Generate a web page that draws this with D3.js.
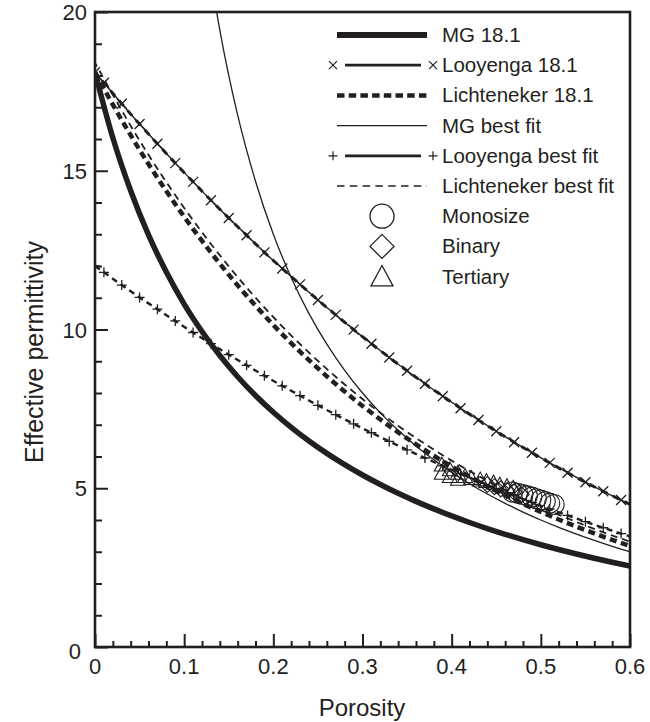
<!DOCTYPE html>
<html lang="en">

<head>
    <meta charset="UTF-8" />
    <title>Effective permittivity vs porosity</title>
    <script src="https://cdnjs.cloudflare.com/ajax/libs/d3/7.8.5/d3.min.js"></script>
    <style>
        body {
            margin: 0;
            padding: 0;
            background: #fff;
            font-family: 'Liberation Sans', Arial, sans-serif;
        }

        #chart {
            display: block;
        }

        .tick-label {
            font-size: 22px;
            fill: #231f20;
        }

        .axis-title {
            font-size: 24px;
            fill: #231f20;
        }

        .legend-label {
            font-size: 20.5px;
            fill: #231f20;
        }
    </style>
</head>

<body>
    <svg id="chart" width="650" height="722"></svg>

    <script>
        // model curves sampled every 0.02 porosity
        const porosityGrid = [0, 0.02, 0.04, 0.06, 0.08, 0.10, 0.12, 0.14, 0.16, 0.18, 0.20,
            0.22, 0.24, 0.26, 0.28, 0.30, 0.32, 0.34, 0.36, 0.38, 0.40,
            0.42, 0.44, 0.46, 0.48, 0.50, 0.52, 0.54, 0.56, 0.58, 0.60];
        const mg181 = [18.10, 16.04, 14.37, 12.98, 11.81, 10.80, 9.936, 9.179, 8.513, 7.921, 7.393,
            6.918, 6.488, 6.098, 5.743, 5.417, 5.118, 4.841, 4.586, 4.349, 4.128,
            3.922, 3.730, 3.549, 3.380, 3.221, 3.071, 2.929, 2.795, 2.668, 2.548];
        const lich181 = [18.10, 17.08, 16.12, 15.21, 14.36, 13.55, 12.79, 12.07, 11.39, 10.75, 10.14,
            9.572, 9.034, 8.525, 8.046, 7.593, 7.166, 6.762, 6.382, 6.023, 5.684,
            5.364, 5.062, 4.777, 4.509, 4.255, 4.016, 3.790, 3.576, 3.375, 3.185];

        // Looyenga curves, marker positions at odd hundredths
        const looyPoros = [0, 0.01, 0.03, 0.05, 0.07, 0.09, 0.11, 0.13, 0.15, 0.17, 0.19,
            0.21, 0.23, 0.25, 0.27, 0.29, 0.31, 0.33, 0.35, 0.37, 0.39,
            0.41, 0.43, 0.45, 0.47, 0.49, 0.51, 0.53, 0.55, 0.57, 0.59, 0.60];
        const looy181 = [18.10, 17.77, 17.11, 16.47, 15.85, 15.24, 14.65, 14.07, 13.51, 12.97, 12.43,
            11.92, 11.42, 10.93, 10.46, 9.996, 9.551, 9.118, 8.699, 8.293, 7.900,
            7.519, 7.151, 6.795, 6.451, 6.119, 5.798, 5.489, 5.191, 4.904, 4.628, 4.494];
        const looyFit = [12.00, 11.80, 11.40, 11.01, 10.64, 10.27, 9.905, 9.552, 9.208, 8.873, 8.545,
            8.226, 7.915, 7.611, 7.316, 7.028, 6.748, 6.476, 6.211, 5.953, 5.702,
            5.459, 5.223, 4.993, 4.771, 4.555, 4.345, 4.143, 3.946, 3.756, 3.572, 3.483];

        const mgFitPoros = [0.10, 0.12, 0.14, 0.16, 0.18, 0.20, 0.22, 0.24, 0.26, 0.28, 0.30,
            0.32, 0.34, 0.36, 0.38, 0.40, 0.42, 0.44, 0.46, 0.48, 0.50,
            0.52, 0.54, 0.56, 0.58, 0.60];
        const mgFit = [28.0, 23.0, 19.43, 16.75, 14.67, 13.00, 11.64, 10.50, 9.538, 8.714, 8.000,
            7.375, 6.824, 6.333, 5.895, 5.500, 5.143, 4.818, 4.522, 4.250, 4.000,
            3.769, 3.556, 3.357, 3.172, 3.000];

        const lichFitPoros = [0, 0.05, 0.10, 0.15, 0.20, 0.25, 0.30, 0.35, 0.40, 0.45, 0.50, 0.55, 0.60];
        const lichFit = [18.40, 15.95, 13.83, 11.99, 10.39, 9.010, 7.810, 6.771, 5.870, 5.089, 4.412, 3.825, 3.316];

        // measured samples [porosity, permittivity]
        const monosize = [[0.468, 4.88], [0.474, 4.84], [0.480, 4.80], [0.485, 4.76], [0.490, 4.72],
            [0.495, 4.67], [0.500, 4.63], [0.505, 4.58], [0.510, 4.53], [0.515, 4.49]];
        const binary = [[0.440, 5.12], [0.448, 5.05], [0.455, 4.98], [0.462, 4.93], [0.470, 4.88], [0.478, 4.80]];
        const tertiary = [[0.389, 5.72], [0.389, 5.46], [0.398, 5.57], [0.398, 5.36], [0.407, 5.46], [0.407, 5.27],
            [0.415, 5.36], [0.422, 5.30], [0.432, 5.25], [0.439, 5.20], [0.447, 5.15], [0.454, 5.09],
            [0.462, 5.04], [0.469, 4.99]];

        const xTicks = [0, 0.1, 0.2, 0.3, 0.4, 0.5, 0.6];
        const yTicks = [0, 5, 10, 15, 20];

        const legendLabels = ["MG 18.1", "Looyenga 18.1", "Lichteneker 18.1", "MG best fit",
            "Looyenga best fit", "Lichteneker best fit", "Monosize", "Binary", "Tertiary"];

        const ink = "#231f20";
        const plotLeft = 95, plotRight = 630, plotTop = 12, plotBottom = 647;

        const svg = d3.select("#chart");
        const x = d3.scaleLinear().domain([0, 0.6]).range([plotLeft, plotRight]);
        const y = d3.scaleLinear().domain([0, 20]).range([plotBottom, plotTop]);

        svg.append("defs").append("clipPath").attr("id", "plot-clip")
            .append("rect")
            .attr("x", plotLeft).attr("y", plotTop)
            .attr("width", plotRight - plotLeft).attr("height", plotBottom - plotTop);

        const plot = svg.append("g").attr("clip-path", "url(#plot-clip)");

        const line = d3.line()
            .x(d => x(d[0]))
            .y(d => y(d[1]))
            .curve(d3.curveMonotoneX);

        const zip = (xs, ys) => xs.map((v, i) => [v, ys[i]]);

        function drawCurve(pts, width, dash, offset) {
            plot.append("path")
                .datum(pts)
                .attr("d", line)
                .attr("fill", "none")
                .attr("stroke", ink)
                .attr("stroke-width", width)
                .attr("stroke-dasharray", dash || null)
                .attr("stroke-dashoffset", offset || 0);
        }

        // curves
        drawCurve(zip(porosityGrid, mg181), 5.5);
        drawCurve(zip(mgFitPoros, mgFit), 1.3);
        drawCurve(zip(porosityGrid, lich181), 4.5, "7,4.5");
        drawCurve(zip(lichFitPoros, lichFit), 1.8, "7,5", 3);
        drawCurve(zip(looyPoros, looy181), 1.4);
        drawCurve(zip(looyPoros, looy181), 3, "7,6", 2);
        drawCurve(zip(looyPoros, looyFit), 2.4, "6,4.5");

        const crossPath = s => `M${-s},${-s}L${s},${s}M${-s},${s}L${s},${-s}`;
        const plusPath = s => `M${-s},0L${s},0M0,${-s}L0,${s}`;

        plot.append("g").selectAll("path")
            .data(zip(looyPoros, looy181).slice(0, -1))
            .join("path")
            .attr("transform", d => `translate(${x(d[0])},${y(d[1])})`)
            .attr("d", crossPath(5))
            .attr("stroke", ink)
            .attr("stroke-width", 1.3);

        plot.append("g").selectAll("path")
            .data(zip(looyPoros, looyFit).slice(0, -1))
            .join("path")
            .attr("transform", d => `translate(${x(d[0])},${y(d[1])})`)
            .attr("d", plusPath(5))
            .attr("stroke", ink)
            .attr("stroke-width", 1.3);

        // data points, open symbols
        const triPath = s => `M0,${-s * 1.1}L${s},${s * 0.75}L${-s},${s * 0.75}Z`;
        const diaPath = s => `M0,${-s}L${s},0L0,${s}L${-s},0Z`;

        plot.append("g").selectAll("path")
            .data(tertiary)
            .join("path")
            .attr("transform", d => `translate(${x(d[0])},${y(d[1])})`)
            .attr("d", triPath(7.5))
            .attr("fill", "none")
            .attr("stroke", ink)
            .attr("stroke-width", 1.1);

        plot.append("g").selectAll("path")
            .data(binary)
            .join("path")
            .attr("transform", d => `translate(${x(d[0])},${y(d[1])})`)
            .attr("d", diaPath(8))
            .attr("fill", "none")
            .attr("stroke", ink)
            .attr("stroke-width", 1.1);

        plot.append("g").selectAll("circle")
            .data(monosize)
            .join("circle")
            .attr("cx", d => x(d[0]))
            .attr("cy", d => y(d[1]))
            .attr("r", 10)
            .attr("fill", "none")
            .attr("stroke", ink)
            .attr("stroke-width", 1.1);

        // axes: inward ticks on bottom and left, plain frame elsewhere
        const xAxis = d3.axisBottom(x).tickValues(d3.range(0, 31).map(i => i * 0.02)).tickFormat("");
        const gx = svg.append("g").attr("transform", `translate(0,${plotBottom})`).call(xAxis);
        gx.select(".domain").remove();
        gx.selectAll(".tick line")
            .attr("stroke", ink)
            .attr("stroke-width", 2)
            .attr("y2", (d, i) => i % 5 === 0 ? -13 : -6);

        const yAxis = d3.axisLeft(y).tickValues(d3.range(0, 21)).tickFormat("");
        const gy = svg.append("g").attr("transform", `translate(${plotLeft},0)`).call(yAxis);
        gy.select(".domain").remove();
        gy.selectAll(".tick line")
            .attr("stroke", ink)
            .attr("stroke-width", 2)
            .attr("x2", d => d % 5 === 0 ? 13 : 7);

        svg.append("rect")
            .attr("x", plotLeft).attr("y", plotTop)
            .attr("width", plotRight - plotLeft).attr("height", plotBottom - plotTop)
            .attr("fill", "none")
            .attr("stroke", ink)
            .attr("stroke-width", 2.6);

        svg.append("g").selectAll("text")
            .data(xTicks)
            .join("text")
            .attr("class", "tick-label")
            .attr("x", d => x(d))
            .attr("y", plotBottom + 27)
            .attr("text-anchor", "middle")
            .text(d => d === 0 ? "0" : d3.format(".1f")(d));

        svg.append("g").selectAll("text")
            .data(yTicks)
            .join("text")
            .attr("class", "tick-label")
            .attr("x", d => d === 0 ? plotLeft - 14 : plotLeft - 8)
            .attr("y", d => y(d) + (d === 0 ? 12 : 8))
            .attr("text-anchor", "end")
            .text(d => d);

        svg.append("text")
            .attr("class", "axis-title")
            .attr("x", 362)
            .attr("y", 716)
            .attr("text-anchor", "middle")
            .text("Porosity");

        svg.append("text")
            .attr("class", "axis-title")
            .attr("transform", "translate(43,352) rotate(-90)")
            .attr("text-anchor", "middle")
            .style("font-size", "25px")
            .text("Effective permittivity");

        // legend
        const legend = svg.append("g");
        const rowY = i => 35 + i * 30.2;
        const lx0 = 337, lx1 = 427, lxc = 382;

        legend.selectAll("text")
            .data(legendLabels)
            .join("text")
            .attr("class", "legend-label")
            .attr("x", 442)
            .attr("y", (d, i) => rowY(i) + 7)
            .text(d => d);

        const legLine = (i, width, dash, x0, x1) => legend.append("line")
            .attr("x1", x0 || lx0).attr("x2", x1 || lx1)
            .attr("y1", rowY(i)).attr("y2", rowY(i))
            .attr("stroke", ink)
            .attr("stroke-width", width)
            .attr("stroke-dasharray", dash || null);

        legLine(0, 6);
        legLine(1, 2.8, null, 345, 421);
        legLine(2, 4.5, "7.5,4.2");
        legLine(3, 1.3);
        legLine(4, 2.8, null, 345, 421);
        legLine(5, 1.6, "7.5,5.3");

        [333, 433].forEach(cx => {
            legend.append("path")
                .attr("transform", `translate(${cx},${rowY(1)})`)
                .attr("d", crossPath(4))
                .attr("stroke", ink).attr("stroke-width", 1.2);
            legend.append("path")
                .attr("transform", `translate(${cx},${rowY(4)})`)
                .attr("d", plusPath(4.5))
                .attr("stroke", ink).attr("stroke-width", 1.2);
        });

        legend.append("circle")
            .attr("cx", lxc).attr("cy", rowY(6)).attr("r", 12)
            .attr("fill", "none").attr("stroke", ink).attr("stroke-width", 1.3);
        legend.append("path")
            .attr("transform", `translate(${lxc},${rowY(7)})`)
            .attr("d", diaPath(12))
            .attr("fill", "none").attr("stroke", ink).attr("stroke-width", 1.3);
        legend.append("path")
            .attr("transform", `translate(${lxc},${rowY(8) + 1})`)
            .attr("d", triPath(11))
            .attr("fill", "none").attr("stroke", ink).attr("stroke-width", 1.3);
    </script>
</body>

</html>
